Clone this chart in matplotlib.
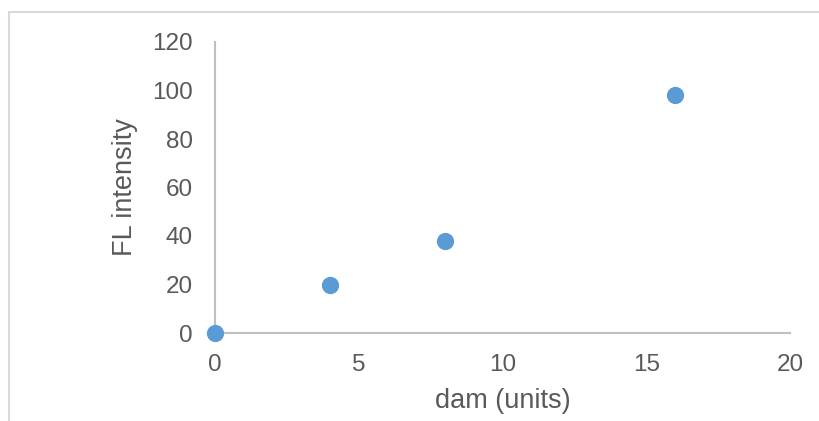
import matplotlib
matplotlib.use("Agg")
import matplotlib.pyplot as plt
from matplotlib.patches import Rectangle

plt.rcParams['font.family'] = ['Liberation Sans', 'DejaVu Sans']

dam = [0, 4, 8, 16]
fl_intensity = [0, 20, 38, 98]
x_ticks = [0, 5, 10, 15, 20]
y_ticks = [0, 20, 40, 60, 80, 100, 120]

text_color = '#595959'
axis_color = '#BFBFBF'

fig = plt.figure(figsize=(8.19, 4.21), dpi=100)
ax = fig.add_axes([215 / 819, 88 / 421, 575 / 819, 291 / 421])

ax.scatter(dam, fl_intensity, s=130, color='#5B9BD5', zorder=3, clip_on=False)

ax.set_xlim(0, 20)
ax.set_ylim(0, 120)
ax.set_xticks(x_ticks)
ax.set_yticks(y_ticks)
ax.tick_params(length=0, labelsize=17.5, labelcolor=text_color)
ax.tick_params(axis='x', pad=15)
ax.tick_params(axis='y', pad=16)

for side in ['top', 'right']:
    ax.spines[side].set_visible(False)
for side in ['left', 'bottom']:
    ax.spines[side].set_color(axis_color)
    ax.spines[side].set_linewidth(1.5)

ax.set_xlabel('dam (units)', fontsize=19.5, color=text_color, labelpad=9)
ax.set_ylabel('FL intensity', fontsize=19.5, color=text_color, labelpad=10)

# chart border (runs off the right and bottom edges)
fig.add_artist(Rectangle((9 / 819, -0.1), 1.0, (421 - 12) / 421 + 0.1,
                         transform=fig.transFigure, fill=False,
                         edgecolor='#D9D9D9', linewidth=1.5))

fig.savefig('out.png', dpi=100)
